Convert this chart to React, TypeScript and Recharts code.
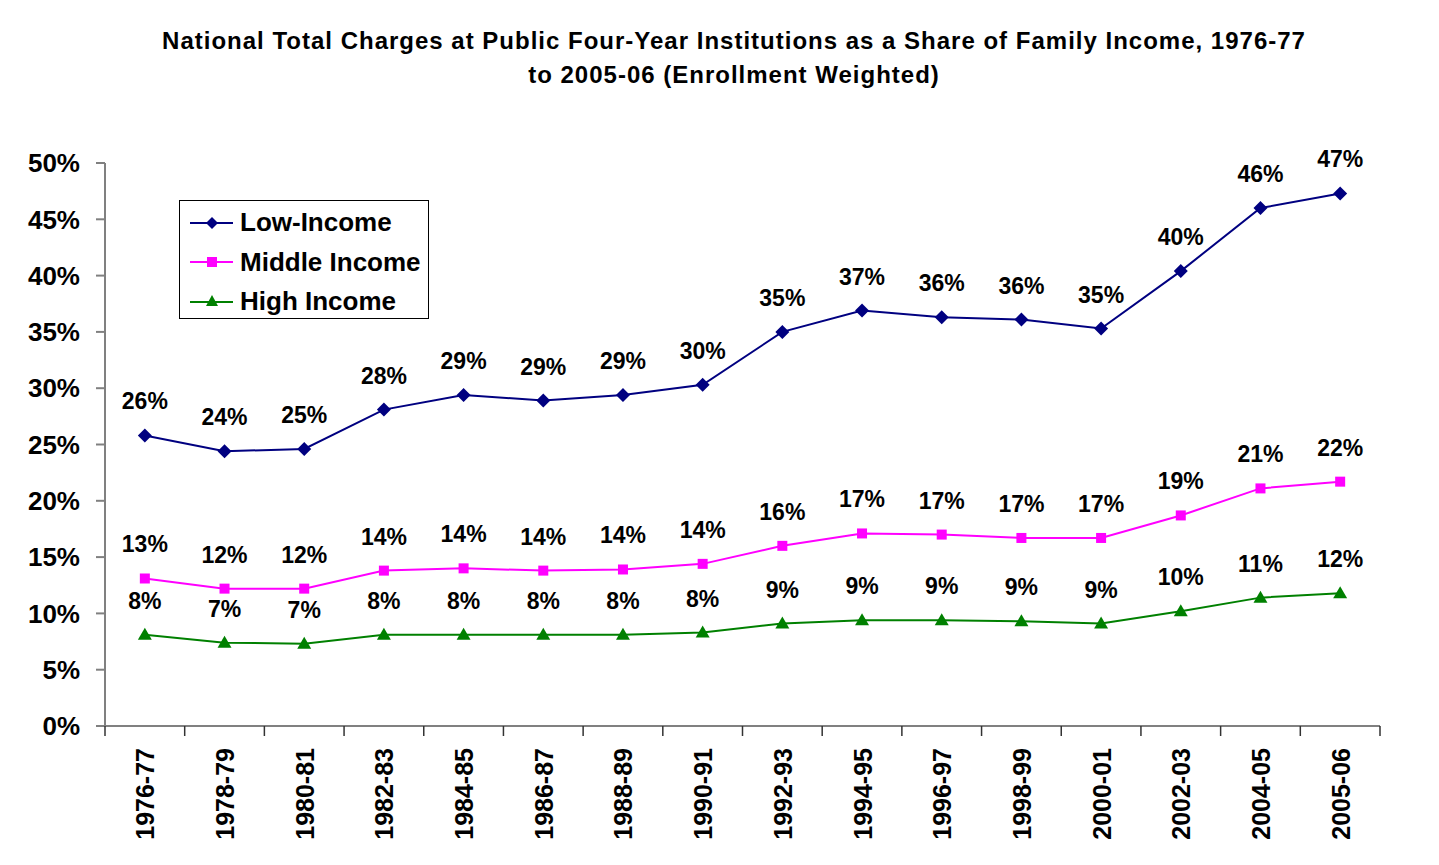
import { LabelList, Line, LineChart, XAxis, YAxis } from "recharts";

const years = [
  "1976-77", "1978-79", "1980-81", "1982-83", "1984-85", "1986-87", "1988-89", "1990-91",
  "1992-93", "1994-95", "1996-97", "1998-99", "2000-01", "2002-03", "2004-05", "2005-06",
];
const lowIncome = [25.8, 24.4, 24.6, 28.1, 29.4, 28.9, 29.4, 30.3, 35.0, 36.9, 36.3, 36.1, 35.3, 40.4, 46.0, 47.3];
const middleIncome = [13.1, 12.2, 12.2, 13.8, 14.0, 13.8, 13.9, 14.4, 16.0, 17.1, 17.0, 16.7, 16.7, 18.7, 21.1, 21.7];
const highIncome = [8.1, 7.4, 7.3, 8.1, 8.1, 8.1, 8.1, 8.3, 9.1, 9.4, 9.4, 9.3, 9.1, 10.2, 11.4, 11.8];
const yTicks = [0, 5, 10, 15, 20, 25, 30, 35, 40, 45, 50];

const NAVY = "#000080";
const MAGENTA = "#ff00ff";
const GREEN = "#008000";
const AXIS = "#808080";

const data = years.map((year, i) => ({
  year,
  low: lowIncome[i],
  middle: middleIncome[i],
  high: highIncome[i],
}));

const pct = (v: any) => `${Math.round(Number(v))}%`;

function Diamond(props: any) {
  const { cx, cy, index } = props;
  if (cx == null || cy == null) return <g key={`dm-${index}`} />;
  return <path key={`dm-${index}`} d={`M${cx},${cy - 7}L${cx + 7},${cy}L${cx},${cy + 7}L${cx - 7},${cy}Z`} fill={NAVY} />;
}

function Square(props: any) {
  const { cx, cy, index } = props;
  if (cx == null || cy == null) return <g key={`sq-${index}`} />;
  return <rect key={`sq-${index}`} x={cx - 5} y={cy - 5} width={10} height={10} fill={MAGENTA} />;
}

function Triangle(props: any) {
  const { cx, cy, index } = props;
  if (cx == null || cy == null) return <g key={`tr-${index}`} />;
  return <path key={`tr-${index}`} d={`M${cx},${cy - 7}L${cx + 7},${cy + 5}L${cx - 7},${cy + 5}Z`} fill={GREEN} />;
}

// category label + tick marks between categories (Excel style)
function YearTick(props: any) {
  const { x, y, payload, index, visibleTicksCount } = props;
  const off = payload?.offset ?? 0;
  const last = index === visibleTicksCount - 1;
  return (
    <g>
      <line x1={x - off} y1={y} x2={x - off} y2={y + 10} stroke="#333" strokeWidth={1.5} />
      {last && <line x1={x + off} y1={y} x2={x + off} y2={y + 10} stroke="#333" strokeWidth={1.5} />}
      <text
        transform={`translate(${x + 9.5},${y + 22}) rotate(-90)`}
        textAnchor="end"
        fill="#000"
        fontSize={25}
        fontWeight="bold"
      >
        {payload.value}
      </text>
    </g>
  );
}

function LegendBox() {
  const rows = [
    { name: "Low-Income", color: NAVY, shape: "diamond" },
    { name: "Middle Income", color: MAGENTA, shape: "square" },
    { name: "High Income", color: GREEN, shape: "triangle" },
  ];
  return (
    <div
      style={{
        position: "absolute",
        left: 179,
        top: 200,
        width: 250,
        height: 119,
        border: "1px solid #000",
        background: "#fff",
        boxSizing: "border-box",
        paddingTop: 2,
      }}
    >
      {rows.map((r) => (
        <div key={r.name} style={{ display: "flex", alignItems: "center", height: 39.5 }}>
          <svg width={60} height={20} style={{ flex: "none" }}>
            <line x1={10} y1={10} x2={53} y2={10} stroke={r.color} strokeWidth={2} />
            {r.shape === "diamond" && <path d="M32,4L38,10L32,16L26,10Z" fill={r.color} />}
            {r.shape === "square" && <rect x={27} y={5} width={10} height={10} fill={r.color} />}
            {r.shape === "triangle" && <path d="M32,3L38,14L26,14Z" fill={r.color} />}
          </svg>
          <span style={{ fontSize: 26, fontWeight: "bold", color: "#000", whiteSpace: "nowrap" }}>{r.name}</span>
        </div>
      ))}
    </div>
  );
}

const labelStyle = { fill: "#000", fontSize: 23, fontWeight: "bold" as const };

export default function App() {
  return (
    <div
      style={{
        position: "absolute",
        left: 0,
        top: 0,
        width: 1439,
        height: 865,
        background: "#fff",
        fontFamily: "'Liberation Sans', Arial, sans-serif",
      }}
    >
      <div
        style={{
          position: "absolute",
          left: 0,
          top: 24,
          width: 1468,
          textAlign: "center",
          fontSize: 24,
          letterSpacing: 1,
          fontWeight: "bold",
          lineHeight: "34px",
          color: "#000",
        }}
      >
        National Total Charges at Public Four-Year Institutions as a Share of Family Income, 1976-77
        <br />
        to 2005-06 (Enrollment Weighted)
      </div>
      <LineChart
        width={1439}
        height={865}
        data={data}
        margin={{ top: 163, right: 59, bottom: 0, left: 0 }}
      >
        <XAxis
          dataKey="year"
          scale="band"
          interval={0}
          height={139}
          axisLine={{ stroke: AXIS, strokeWidth: 2 }}
          tickLine={false}
          tickSize={0}
          tickMargin={0}
          tick={YearTick}
        />
        <YAxis
          width={105}
          domain={[0, 50]}
          ticks={yTicks}
          interval={0}
          tickFormatter={(v) => `${v}%`}
          axisLine={{ stroke: AXIS, strokeWidth: 2 }}
          tickLine={{ stroke: AXIS, strokeWidth: 2 }}
          tickSize={9}
          tickMargin={16}
          tick={{ fill: "#000", fontSize: 26, fontWeight: "bold" }}
        />
        <Line
          dataKey="low"
          name="Low-Income"
          stroke={NAVY}
          strokeWidth={2}
          dot={Diamond}
          activeDot={false}
          isAnimationActive={false}
        >
          <LabelList dataKey="low" position="top" offset={26} formatter={pct} {...labelStyle} />
        </Line>
        <Line
          dataKey="middle"
          name="Middle Income"
          stroke={MAGENTA}
          strokeWidth={2}
          dot={Square}
          activeDot={false}
          isAnimationActive={false}
        >
          <LabelList dataKey="middle" position="top" offset={26} formatter={pct} {...labelStyle} />
        </Line>
        <Line
          dataKey="high"
          name="High Income"
          stroke={GREEN}
          strokeWidth={2}
          dot={Triangle}
          activeDot={false}
          isAnimationActive={false}
        >
          <LabelList dataKey="high" position="top" offset={26} formatter={pct} {...labelStyle} />
        </Line>
      </LineChart>
      <LegendBox />
    </div>
  );
}
